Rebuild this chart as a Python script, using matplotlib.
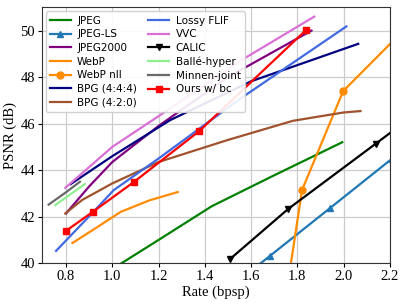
import matplotlib
matplotlib.use("Agg")
import matplotlib.pyplot as plt
import numpy as np

# rate (bpsp) / PSNR (dB)
jpeg_x = [1.04, 1.2, 1.43, 1.7, 1.994]
jpeg_y = [40.0, 41.0, 42.45, 43.78, 45.2]

jpegls_x = [1.42, 1.681, 1.94, 2.21, 2.5]
jpegls_y = [38.25, 40.31, 42.36, 44.5, 46.8]

j2k_x = [0.80, 0.9, 1.0, 1.2, 1.5, 1.861]
j2k_y = [42.14, 43.3, 44.35, 45.9, 48.0, 50.0]

webp_x = [0.828, 0.93, 1.037, 1.16, 1.283]
webp_y = [40.87, 41.52, 42.21, 42.7, 43.06]

webpnll_x = [1.76, 1.82, 1.998, 2.4]
webpnll_y = [39.2, 43.14, 47.4, 51.42]

bpg444_x = [0.82, 1.0, 1.25, 1.6, 2.063]
bpg444_y = [43.4, 44.6, 46.15, 47.82, 49.43]

bpg420_x = [0.797, 0.87, 1.0, 1.2, 1.5, 1.78, 2.0, 2.073]
bpg420_y = [42.14, 42.72, 43.43, 44.35, 45.3, 46.12, 46.48, 46.54]

flif_x = [0.757, 0.912, 1.006, 1.2, 1.55, 2.012]
flif_y = [40.53, 42.14, 43.14, 44.5, 47.05, 50.18]

vvc_x = [0.797, 1.0, 1.25, 1.55, 1.873]
vvc_y = [43.24, 45.0, 46.65, 48.68, 50.6]

calic_x = [1.508, 1.76, 2.139, 2.45]
calic_y = [40.17, 42.33, 45.14, 47.45]

balle_x = [0.754, 0.81, 0.881]
balle_y = [42.5, 42.9, 43.4]

minnen_x = [0.725, 0.80, 0.86]
minnen_y = [42.52, 43.05, 43.5]

ours_x = [0.80, 0.916, 1.093, 1.376, 1.837]
ours_y = [41.39, 42.21, 43.49, 45.68, 50.02]

fig = plt.figure(figsize=(4.07, 3.05), dpi=100)
ax = fig.add_axes([0.1025, 0.137, 0.8555, 0.839])

lw = 1.6
ax.plot(jpeg_x, jpeg_y, color='green', lw=lw, label='JPEG')
ax.plot(jpegls_x, jpegls_y, color='#1f77b4', lw=lw, marker='^', ms=5, label='JPEG-LS')
ax.plot(j2k_x, j2k_y, color='purple', lw=lw, label='JPEG2000')
ax.plot(webp_x, webp_y, color='darkorange', lw=lw, label='WebP')
ax.plot(webpnll_x, webpnll_y, color='darkorange', lw=lw, marker='o', ms=5, label='WebP nll')
ax.plot(bpg444_x, bpg444_y, color='navy', lw=lw, label='BPG (4:4:4)')
ax.plot(bpg420_x, bpg420_y, color='sienna', lw=lw, label='BPG (4:2:0)')
ax.plot(flif_x, flif_y, color='royalblue', lw=lw, label='Lossy FLIF')
ax.plot(vvc_x, vvc_y, color='orchid', lw=lw, label='VVC')
ax.plot(calic_x, calic_y, color='black', lw=lw, marker='v', ms=5, label='CALIC')
ax.plot(balle_x, balle_y, color='lightgreen', lw=lw, label='Ballé-hyper')
ax.plot(minnen_x, minnen_y, color='dimgray', lw=lw, label='Minnen-joint')
ax.plot(ours_x, ours_y, color='red', lw=lw, marker='s', ms=5, label='Ours w/ bc')

ax.set_xlim(0.695, 2.2)
ax.set_ylim(40, 51)
ax.set_xticks(np.arange(0.8, 2.21, 0.2))
ax.set_yticks(np.arange(40, 51, 2))
ax.grid(True, color='#cccccc', lw=0.9)
ax.set_axisbelow(True)

serif = 'Liberation Serif'
for lab in ax.get_xticklabels() + ax.get_yticklabels():
    lab.set_fontfamily(serif)
    lab.set_fontsize(10.5)
ax.set_xlabel('Rate (bpsp)', fontfamily=serif, fontsize=10.5, labelpad=2)
ax.set_ylabel('PSNR (dB)', fontfamily=serif, fontsize=10.5, labelpad=2)
ax.tick_params(length=3, pad=2)
for s in ax.spines.values():
    s.set_color('#333333')

ax.legend(loc='upper left', ncol=2, fontsize=7.5, handlelength=2.0,
          columnspacing=1.1, labelspacing=0.35, borderpad=0.4,
          handletextpad=0.6, borderaxespad=0.4, framealpha=0.9)

fig.savefig('out.png', dpi=100)
